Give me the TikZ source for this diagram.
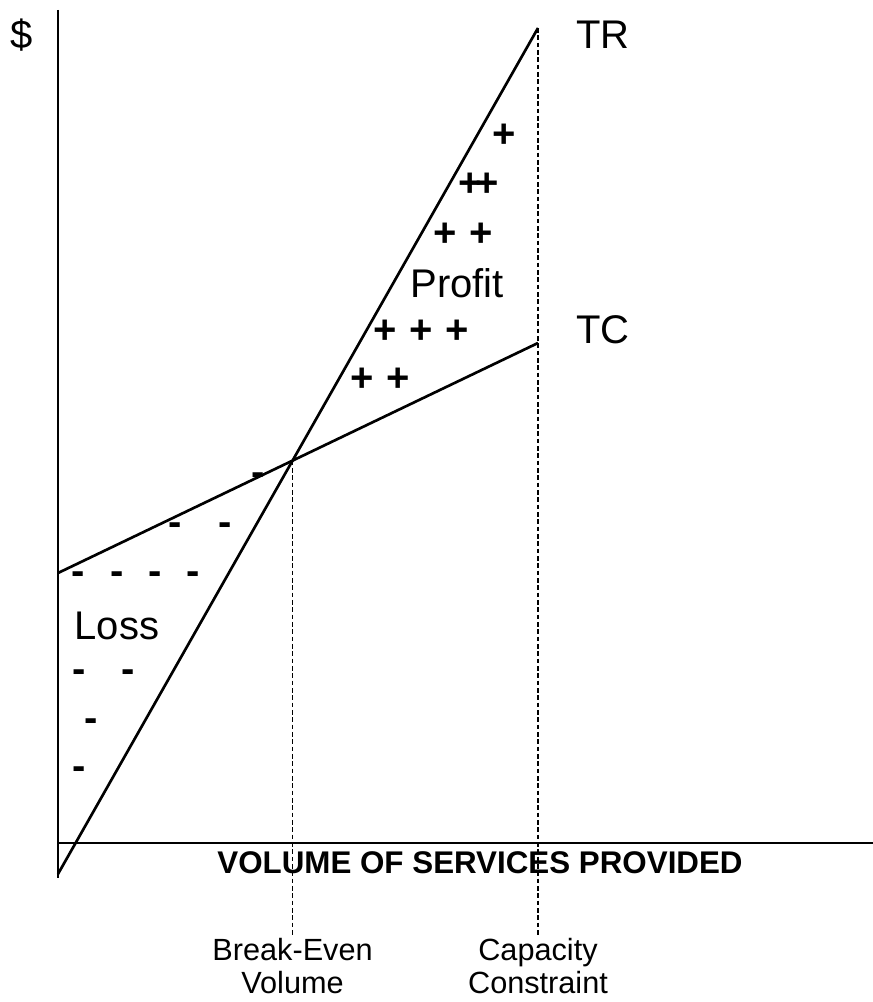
\documentclass[tikz,border=0pt]{standalone}
\usepackage{fontspec}
\setmainfont{Liberation Sans}
\usetikzlibrary{positioning,calc,intersections}

\tikzset{
  curve/.style={line width=2pt},
  guide/.style={line width=1pt,dash pattern=on 3.5pt off 2pt},
  biglbl/.style={inner sep=0pt,font=\fontsize{30}{36}\selectfont},
  sign/.style={inner sep=0pt,font=\bfseries\fontsize{30}{36}\selectfont},
  axislbl/.style={inner sep=0pt,font=\bfseries\fontsize{23.5}{28}\selectfont},
  marklbl/.style={inner sep=0pt,align=center,font=\fontsize{23}{25}\selectfont}
}

\begin{document}
\begin{tikzpicture}[x=0.75pt,y=-0.75pt]
        \useasboundingbox (0,0) rectangle (873,1002);

        % Axes
        \coordinate (ytop) at (58,10);
        \coordinate (ybot) at (58,878);
        \coordinate (xend) at (873,843);
        \coordinate (orig) at (58,843);
        \draw[curve] (ytop) -- (ybot);
        \draw[curve] (orig) -- (xend);

        % Revenue and cost lines
        \coordinate (tr0) at (58,874);
        \coordinate (tr1) at (538,28);
        \coordinate (tc0) at (58,573);
        \coordinate (tc1) at (538,343);
        \draw[curve,name path=tr] (tr0) -- (tr1);
        \draw[curve,name path=tc] (tc0) -- (tc1);
        \path[name intersections={of=tr and tc,by=be}];

        % Guides
        \coordinate (cap) at (538,935);
        \draw[guide] (tr1) -- (cap);
        \draw[guide] (be) -- (be |- cap);

        % Labels
        \node[biglbl] (dollar) at (22,35) {\$};
        \node[biglbl] (trlbl) at (603,35) {TR};
        \node[biglbl] (tclbl) at (603,330) {TC};
        \node[biglbl] (profit) at (457,283) {Profit};
        \node[biglbl] (loss) at (117,626) {Loss};
        \node[axislbl] (vol) at (480,863) {VOLUME OF SERVICES PROVIDED};
        \node[marklbl,below=2pt of be |- cap] (belbl) {Break-Even\\Volume};
        \node[marklbl,below=2pt of cap] (caplbl) {Capacity\\Constraint};

        % Plus signs
        \foreach \px/\py [count=\i] in {504/136,470/185,487/185,445/235,481/235,
                                       385/332,421/332,457/332,362/380,398/380}
            \node[sign] (p\i) at (\px,\py) {+};

        % Minus signs
        \foreach \mx/\my [count=\i] in {258/479,175/529,225/529,78/578,117/578,
                                       155/578,193/578,79/676,128/676,91/725,79/773}
            \node[sign] (m\i) at (\mx,\my) {-};

    \end{tikzpicture}
\end{document}
